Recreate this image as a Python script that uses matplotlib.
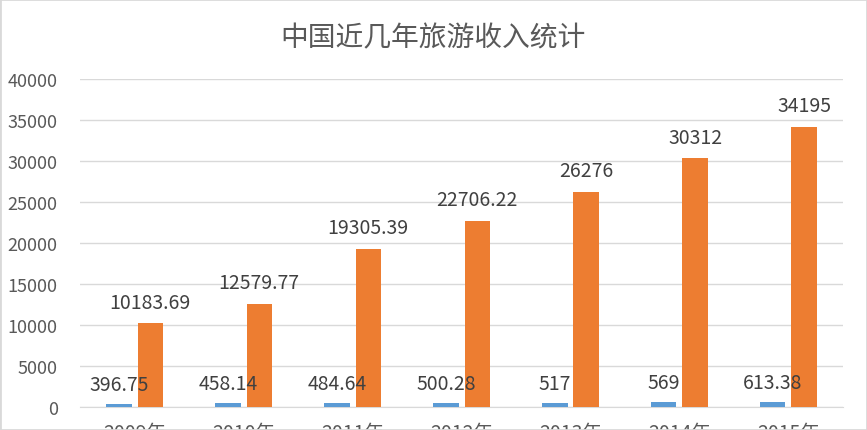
import numpy as np
import matplotlib
matplotlib.use('Agg')
from matplotlib import pyplot as plt
from matplotlib.patches import Rectangle

# data
years = ['2009年', '2010年', '2011年', '2012年', '2013年', '2014年', '2015年']
blue_vals = [396.75, 458.14, 484.64, 500.28, 517, 569, 613.38]
orange_vals = [10183.69, 12579.77, 19305.39, 22706.22, 26276, 30312, 34195]
blue_labels = ['396.75', '458.14', '484.64', '500.28', '517', '569', '613.38']
orange_labels = ['10183.69', '12579.77', '19305.39', '22706.22', '26276', '30312', '34195']

plt.rcParams['font.family'] = ['Liberation Sans Narrow', 'Noto Sans CJK SC', 'DejaVu Sans']
txt = '#595959'

fig = plt.figure(figsize=(8.67, 4.31), dpi=100)
ax = fig.add_axes([0.0923, 0.0534, 0.8800, 0.7610])

x = np.arange(len(years))
w = 0.23
gap = 0.055
bx = x - (w + gap) / 2
ox = x + (w + gap) / 2
ax.bar(bx, blue_vals, width=w, color='#5B9BD5', zorder=3)
ax.bar(ox, orange_vals, width=w, color='#ED7D31', zorder=3)

for xi, v, s in zip(bx, blue_vals, blue_labels):
    ax.annotate(s, (xi, v), xytext=(0, 14), textcoords='offset points',
                ha='center', va='center', fontsize=14, color='#404040')
for xi, v, s in zip(ox, orange_vals, orange_labels):
    ax.annotate(s, (xi, v), xytext=(0, 15), textcoords='offset points',
                ha='center', va='center', fontsize=14, color='#404040')

ax.set_xlim(-0.5, len(years) - 0.5)
ax.set_ylim(0, 40000)
ax.set_yticks(np.arange(0, 40001, 5000))
ax.yaxis.grid(True, color='#D9D9D9', linewidth=1, zorder=0)
ax.set_xticks(x)
ax.set_xticklabels(years, fontsize=14, color=txt, family=['Liberation Sans Narrow', 'Noto Sans CJK SC'])
ax.tick_params(axis='y', labelsize=13, colors=txt, length=0, pad=16)
ax.tick_params(axis='x', length=0, pad=11)
for sp in ['top', 'right', 'left']:
    ax.spines[sp].set_visible(False)
ax.spines['bottom'].set_color('#D9D9D9')

fig.text(0.499, 0.912, '中国近几年旅游收入统计', ha='center', va='center',
         fontsize=20, color=txt, family=['Noto Sans CJK SC', 'DejaVu Sans'], weight='light')

fig.patches.append(Rectangle((0, 0), 1, 1, transform=fig.transFigure, fill=False,
                             edgecolor='#D9D9D9', linewidth=2))

fig.savefig('out.png', dpi=100)
